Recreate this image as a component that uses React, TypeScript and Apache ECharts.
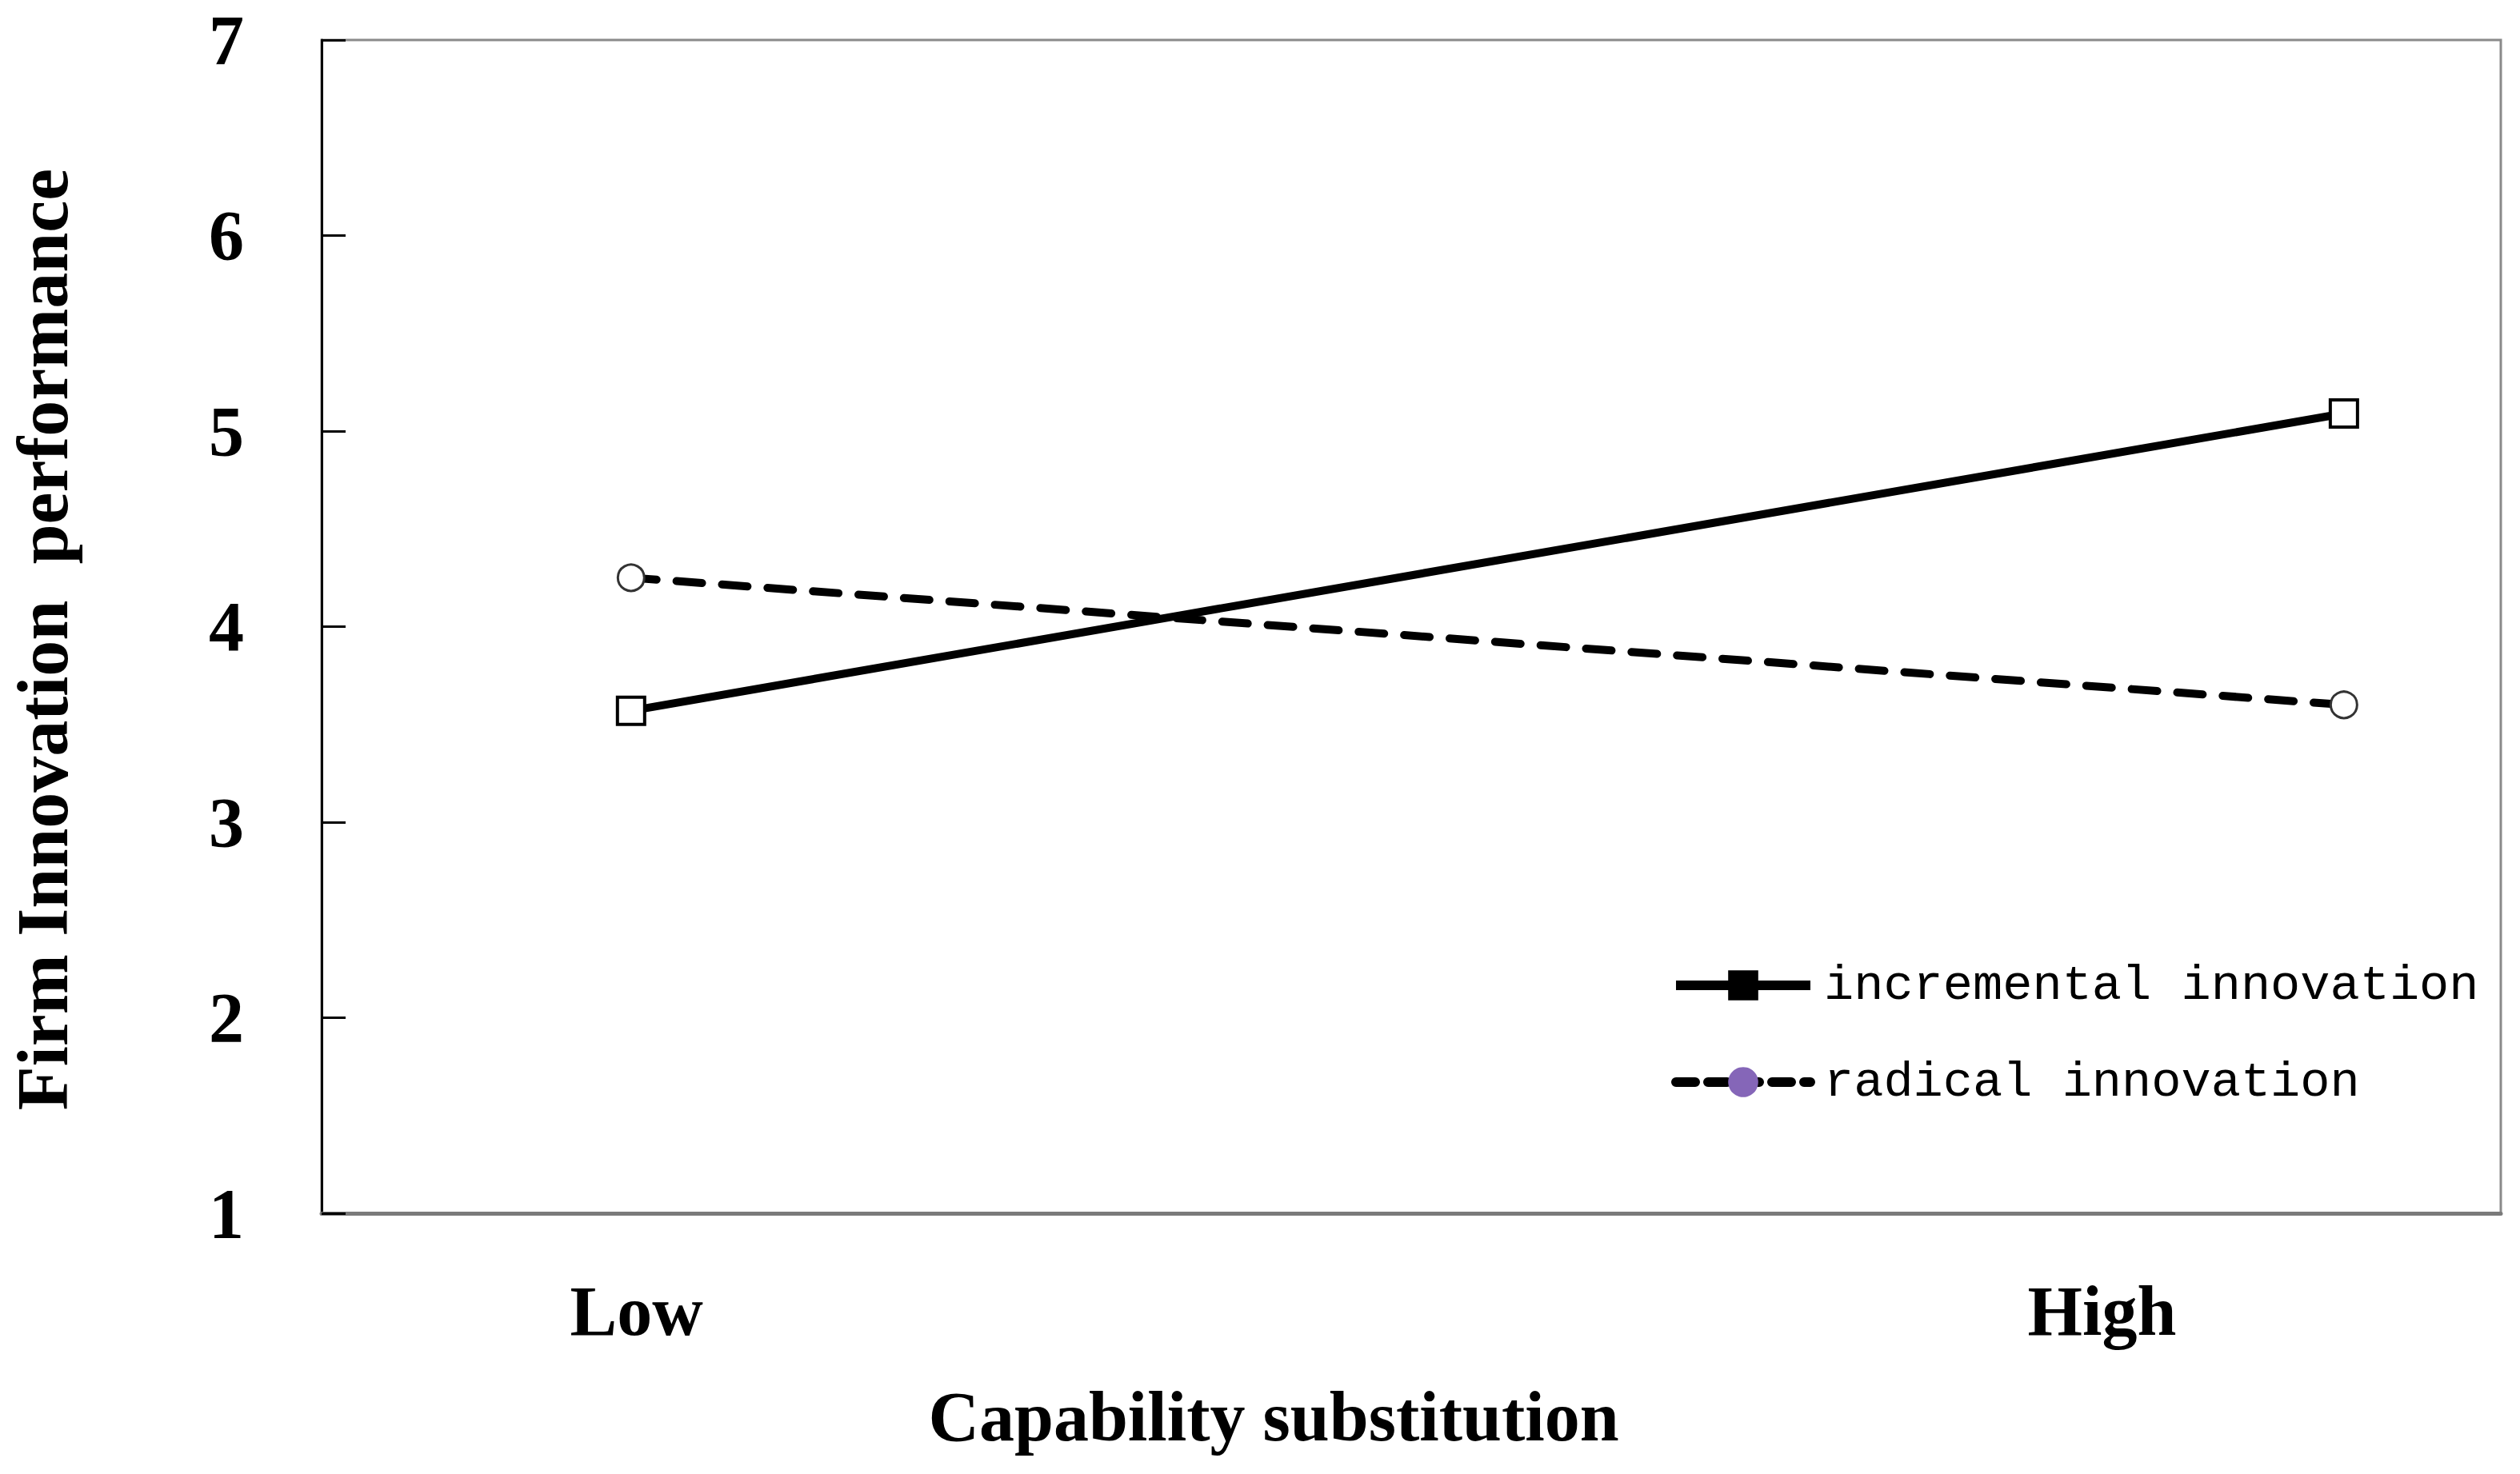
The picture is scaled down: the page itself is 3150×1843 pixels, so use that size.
import React, { useEffect, useRef } from "react";
import * as echarts from "echarts";

const seriesNames = ["incremental innovation", "radical innovation"];
const xCategoryLabels = ["Low", "High"];
const xLabelPositions = [0.1445, 0.817];
const xPointPositions = [0.142, 0.928];
const incrementalValues = [3.57, 5.09];
const radicalValues = [4.25, 3.6];
const yTicks = [1, 2, 3, 4, 5, 6, 7];

const SERIF = '"Liberation Serif", "Times New Roman", serif';
const MONO = '"Liberation Mono", "Courier New", monospace';

export default function App() {
  const ref = useRef<HTMLDivElement>(null);
  useEffect(() => {
    if (!ref.current) return;
    const chart = echarts.init(ref.current, null, { renderer: "svg" });
    const toPairs = (vals: number[]) => vals.map((v, i) => [xPointPositions[i], v]);
    chart.setOption({
      animation: false,
      backgroundColor: "#ffffff",
      grid: {
        left: 400,
        top: 50,
        width: 2726,
        height: 1467,
        show: true,
        borderColor: "#8a8a8a",
        borderWidth: 3,
        backgroundColor: "transparent",
      },
      xAxis: {
        type: "value",
        min: 0,
        max: 1,
        name: "Capability substitution",
        nameLocation: "middle",
        nameGap: 210,
        nameTextStyle: {
          fontFamily: SERIF,
          fontWeight: "bold",
          fontSize: 88,
          color: "#000",
          padding: [0, 344, 0, 0],
        },
        axisLine: { show: true, lineStyle: { color: "#7a7a7a", width: 5 } },
        axisTick: { show: false },
        splitLine: { show: false },
        axisLabel: {
          customValues: xLabelPositions,
          formatter: (v: number) => {
            let best = 0;
            xLabelPositions.forEach((p, i) => {
              if (Math.abs(p - v) < Math.abs(xLabelPositions[best] - v)) best = i;
            });
            return xCategoryLabels[best];
          },
          margin: 78,
          fontFamily: SERIF,
          fontWeight: "bold",
          fontSize: 88,
          color: "#000",
        },
      },
      yAxis: {
        type: "value",
        min: yTicks[0],
        max: yTicks[yTicks.length - 1],
        interval: 1,
        name: "Firm Innovation  performance",
        nameLocation: "middle",
        nameGap: 304,
        nameTextStyle: {
          fontFamily: SERIF,
          fontWeight: "bold",
          fontSize: 90,
          color: "#000",
          padding: [0, 32, 0, 0],
        },
        axisLine: { show: true, lineStyle: { color: "#000", width: 3 } },
        axisTick: { show: true, inside: true, length: 30, lineStyle: { color: "#000", width: 3 } },
        splitLine: { show: false },
        axisLabel: {
          margin: 97,
          fontFamily: SERIF,
          fontWeight: "bold",
          fontSize: 88,
          color: "#000",
        },
      },
      legend: {
        orient: "vertical",
        left: 2084,
        top: 1196,
        itemWidth: 168,
        itemHeight: 47,
        itemGap: 59,
        textStyle: {
          fontFamily: MONO,
          fontSize: 62,
          color: "#000",
          lineHeight: 47,
          padding: [0, 0, 0, 12],
        },
        data: [
          {
            name: seriesNames[0],
            itemStyle: { color: "#000", borderColor: "#000", borderWidth: 0 },
            lineStyle: { color: "#000", width: 12, type: "solid" },
          },
          {
            name: seriesNames[1],
            itemStyle: { color: "#8566B8", borderColor: "#8566B8", borderWidth: 0 },
            lineStyle: { color: "#000", width: 12, type: [24, 16] },
          },
        ],
      },
      series: [
        {
          name: seriesNames[0],
          type: "line",
          data: toPairs(incrementalValues),
          symbol: "rect",
          symbolSize: 34,
          showSymbol: true,
          lineStyle: { color: "#000", width: 10, type: "solid" },
          itemStyle: { color: "#fff", borderColor: "#000", borderWidth: 4 },
          z: 3,
        },
        {
          name: seriesNames[1],
          type: "line",
          data: toPairs(radicalValues),
          symbol: "circle",
          symbolSize: 33,
          showSymbol: true,
          lineStyle: { color: "#000", width: 10, type: [32, 25], cap: "round" },
          itemStyle: { color: "#fff", borderColor: "#333", borderWidth: 3 },
          z: 3,
        },
      ],
    });
    return () => chart.dispose();
  }, []);
  return (
    <div
      ref={ref}
      style={{ position: "fixed", left: 0, top: 0, width: 3150, height: 1843, background: "#fff" }}
    />
  );
}
